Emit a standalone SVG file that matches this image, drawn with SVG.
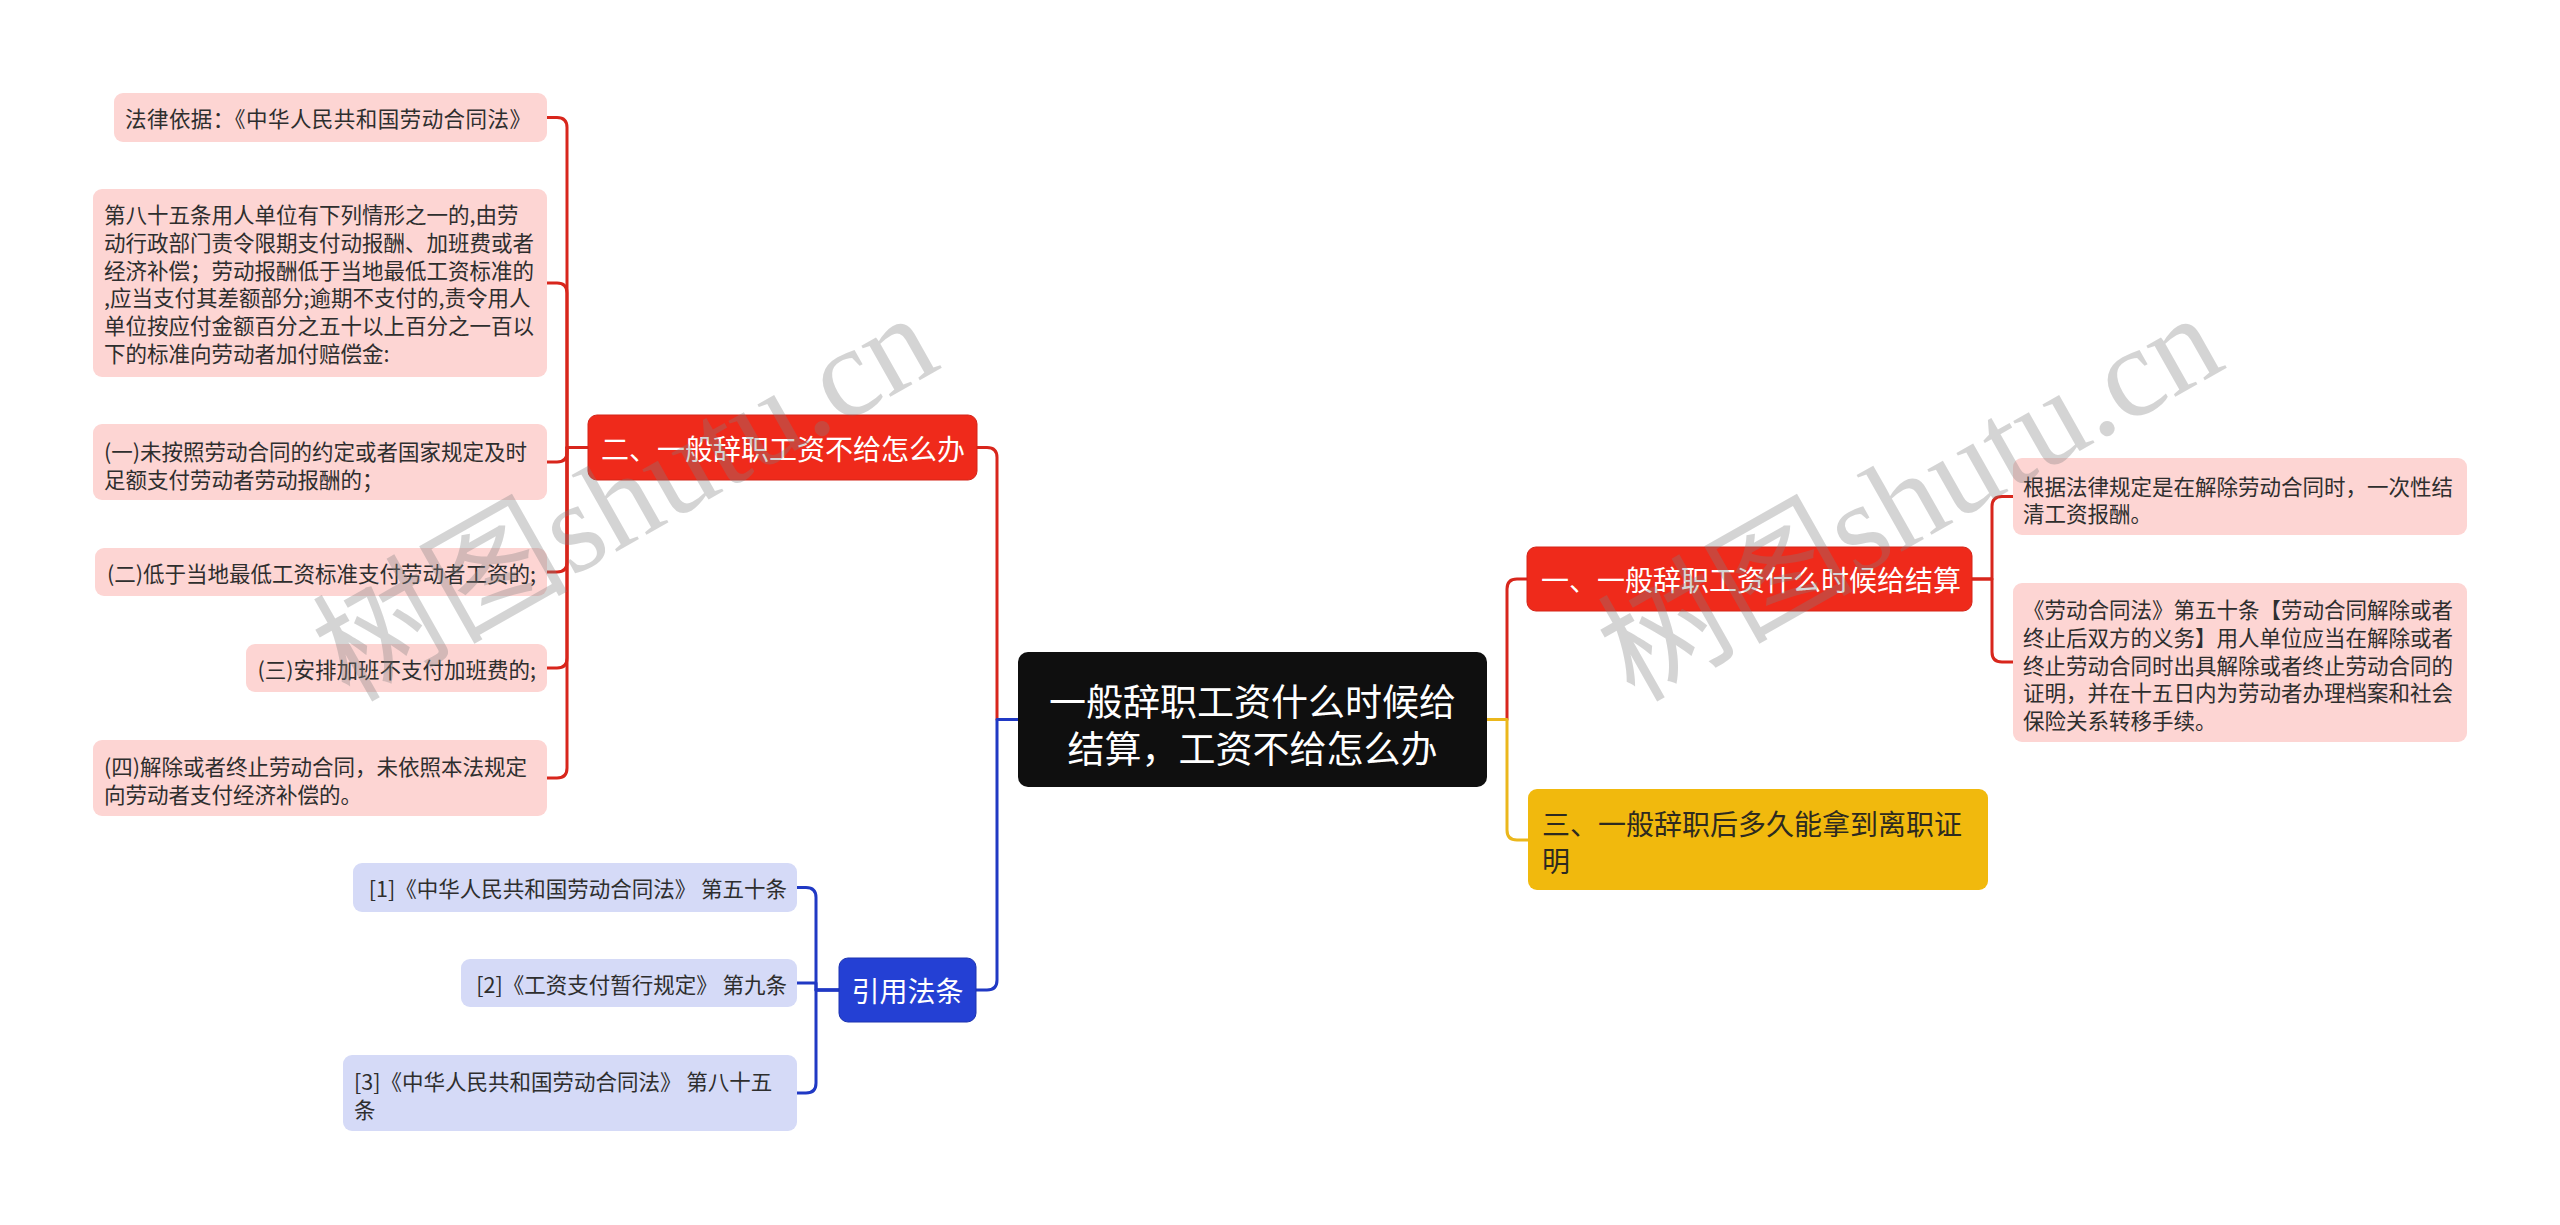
<svg xmlns="http://www.w3.org/2000/svg" width="2560" height="1225" viewBox="0 0 2560 1225">
<style>
text{font-family:"Noto Sans CJK SC","Noto Sans",sans-serif;dominant-baseline:central}
.leaf{font-size:21.5px;fill:#2e2e2e}
.pk{fill:#fdd5d3}
.bl{fill:#d5daf7}
.rn{fill:#ef2a1b;stroke:#d42419;stroke-width:1}
.wt{fill:#ffffff}
.ln{fill:none;stroke-width:3;stroke-linejoin:round}
.r{stroke:#d8261c}
.b{stroke:#2039c4}
.y{stroke:#ebb71c}
.wm{font-family:"Liberation Serif","Noto Sans CJK SC",serif;font-size:128px;fill:#808080;opacity:0.33;dominant-baseline:alphabetic}
</style>
<rect width="2560" height="1225" fill="#ffffff"/>
<g id="connectors">
<path class="ln r" d="M1018,719.5 H997 V457.5 Q997,447.5 987,447.5 H977"/>
<path class="ln b" d="M1018,719.5 H997 V980 Q997,990 987,990 H976"/>
<path class="ln r" d="M1487,719.5 H1507 V589 Q1507,579 1517,579 H1527"/>
<path class="ln y" d="M1487,719.5 H1507 V830 Q1507,840 1517,840 H1528"/>
<path class="ln r" d="M588,447.5 H567 V127.5 Q567,117.5 557,117.5 H547"/>
<path class="ln r" d="M588,447.5 H567 V293 Q567,283 557,283 H547"/>
<path class="ln r" d="M588,447.5 H567 V452 Q567,462 557,462 H547"/>
<path class="ln r" d="M588,447.5 H567 V562 Q567,572 557,572 H547"/>
<path class="ln r" d="M588,447.5 H567 V658 Q567,668 557,668 H547"/>
<path class="ln r" d="M588,447.5 H567 V768 Q567,778 557,778 H547"/>
<path class="ln b" d="M839,990 H816 V897.5 Q816,887.5 806,887.5 H797"/>
<path class="ln b" d="M839,990 H816 V983 H797"/>
<path class="ln b" d="M839,990 H816 V1083 Q816,1093 806,1093 H797"/>
<path class="ln r" d="M1972,579 H1992 V506.5 Q1992,496.5 2002,496.5 H2013"/>
<path class="ln r" d="M1972,579 H1992 V652 Q1992,662 2002,662 H2013"/>
</g>
<g id="root">
<rect x="1018" y="652" width="469" height="135" rx="10" fill="#0f0f0f"/>
<text x="1252.5" y="700" font-size="37" fill="#ffffff" text-anchor="middle">一般辞职工资什么时候给</text>
<text x="1252.5" y="746.5" font-size="37" fill="#ffffff" text-anchor="middle">结算，工资不给怎么办</text>
</g>
<g id="n2">
<rect class="rn" x="588" y="415" width="389" height="65" rx="9"/>
<text x="601" y="448" font-size="28" class="wt">二、一般辞职工资不给怎么办</text>
</g>
<g id="n2a">
<rect class="pk" x="114" y="93" width="433" height="49" rx="9"/>
<text class="leaf" x="125" y="117.5" textLength="406" lengthAdjust="spacing">法律依据：《中华人民共和国劳动合同法》</text>
</g>
<g id="n2b">
<rect class="pk" x="93" y="189" width="454" height="188" rx="9"/>
<text class="leaf" x="104" y="213.5">第八十五条用人单位有下列情形之一的,由劳</text>
<text class="leaf" x="104" y="241.3">动行政部门责令限期支付动报酬、加班费或者</text>
<text class="leaf" x="104" y="269.1">经济补偿；劳动报酬低于当地最低工资标准的</text>
<text class="leaf" x="104" y="296.9">,应当支付其差额部分;逾期不支付的,责令用人</text>
<text class="leaf" x="104" y="324.7">单位按应付金额百分之五十以上百分之一百以</text>
<text class="leaf" x="104" y="352.5">下的标准向劳动者加付赔偿金:</text>
</g>
<g id="n2c">
<rect class="pk" x="93" y="424" width="454" height="76" rx="9"/>
<text class="leaf" x="104" y="450">(一)未按照劳动合同的约定或者国家规定及时</text>
<text class="leaf" x="104" y="478">足额支付劳动者劳动报酬的；</text>
</g>
<g id="n2d">
<rect class="pk" x="95" y="548" width="452" height="48" rx="9"/>
<text class="leaf" x="536" y="572" text-anchor="end">(二)低于当地最低工资标准支付劳动者工资的;</text>
</g>
<g id="n2e">
<rect class="pk" x="246" y="644" width="301" height="48" rx="9"/>
<text class="leaf" x="536" y="668" text-anchor="end">(三)安排加班不支付加班费的;</text>
</g>
<g id="n2f">
<rect class="pk" x="93" y="740" width="454" height="76" rx="9"/>
<text class="leaf" x="104" y="765">(四)解除或者终止劳动合同，未依照本法规定</text>
<text class="leaf" x="104" y="793">向劳动者支付经济补偿的。</text>
</g>
<g id="n4">
<rect x="839" y="958" width="137" height="64" rx="9" fill="#2440d4" stroke="#1c33b0" stroke-width="1"/>
<text x="907.5" y="990" font-size="28" class="wt" text-anchor="middle">引用法条</text>
</g>
<g id="n4a">
<rect class="bl" x="353" y="863" width="444" height="49" rx="9"/>
<text class="leaf" x="787" y="887.5" text-anchor="end">[1]《中华人民共和国劳动合同法》 第五十条</text>
</g>
<g id="n4b">
<rect class="bl" x="461" y="959" width="336" height="48" rx="9"/>
<text class="leaf" x="787" y="983" text-anchor="end">[2]《工资支付暂行规定》 第九条</text>
</g>
<g id="n4c">
<rect class="bl" x="343" y="1055" width="454" height="76" rx="9"/>
<text class="leaf" x="354" y="1080">[3]《中华人民共和国劳动合同法》 第八十五</text>
<text class="leaf" x="354" y="1108">条</text>
</g>
<g id="n1">
<rect class="rn" x="1527" y="547" width="445" height="64" rx="9"/>
<text x="1541" y="579" font-size="28" class="wt">一、一般辞职工资什么时候给结算</text>
</g>
<g id="n1a">
<rect class="pk" x="2013" y="458" width="454" height="77" rx="9"/>
<text class="leaf" x="2023" y="485">根据法律规定是在解除劳动合同时，一次性结</text>
<text class="leaf" x="2023" y="512">清工资报酬。</text>
</g>
<g id="n1b">
<rect class="pk" x="2013" y="583" width="454" height="159" rx="9"/>
<text class="leaf" x="2023" y="608.5">《劳动合同法》第五十条【劳动合同解除或者</text>
<text class="leaf" x="2023" y="636.3">终止后双方的义务】用人单位应当在解除或者</text>
<text class="leaf" x="2023" y="664.1">终止劳动合同时出具解除或者终止劳动合同的</text>
<text class="leaf" x="2023" y="691.9">证明，并在十五日内为劳动者办理档案和社会</text>
<text class="leaf" x="2023" y="719.7">保险关系转移手续。</text>
</g>
<g id="n3">
<rect x="1528" y="789" width="460" height="101" rx="9" fill="#f1b90d"/>
<text x="1542" y="823" font-size="28" fill="#2d2a20">三、一般辞职后多久能拿到离职证</text>
<text x="1542" y="860" font-size="28" fill="#2d2a20">明</text>
</g>
<g id="watermark">
<text class="wm" transform="translate(349,703) rotate(-29.5)" textLength="683" lengthAdjust="spacing">树图shutu.cn</text>
<text class="wm" transform="translate(1634,703) rotate(-29.5)" textLength="683" lengthAdjust="spacing">树图shutu.cn</text>
</g>
</svg>
